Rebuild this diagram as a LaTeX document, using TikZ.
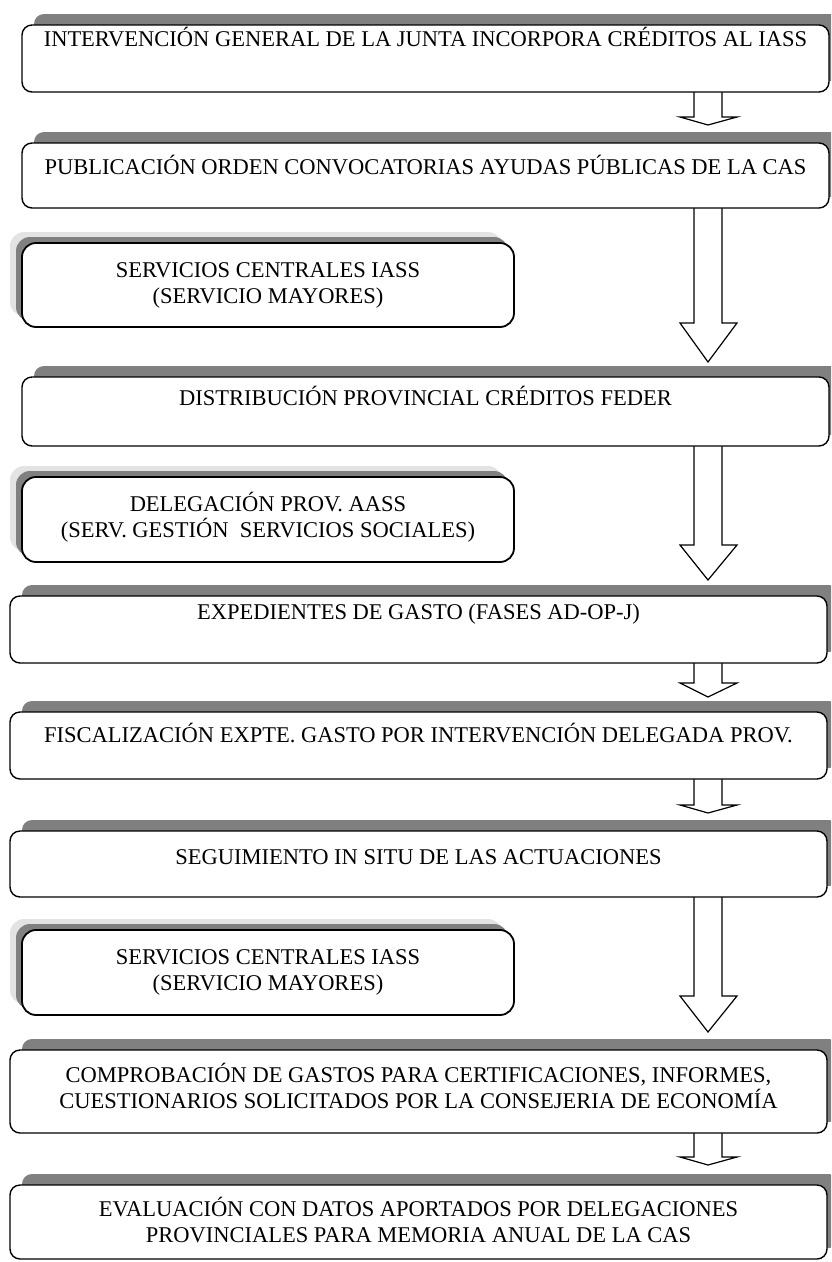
\documentclass[tikz,border=0pt]{standalone}
\usepackage{fontspec}
\setmainfont{Liberation Serif}
\usetikzlibrary{calc}
\pgfdeclarelayer{bg}
\pgfsetlayers{bg,main}
\definecolor{shdark}{HTML}{808080}
\definecolor{shlight}{HTML}{E3E3E3}
\tikzset{
  boxfont/.style={font=\fontsize{22.5}{26}\selectfont},
  mainbox/.style={boxfont, draw=black, line width=1.4pt, fill=white, rounded corners=10pt,
    inner sep=0pt, outer sep=0pt, anchor=north west},
  sidebox/.style={boxfont, draw=black, line width=1.8pt, fill=white, rounded corners=14pt,
    inner sep=0pt, outer sep=0pt, anchor=north west},
  mainshadow/.style={fill=shdark, rounded corners=10pt},
  sidedark/.style={fill=shdark, rounded corners=14pt},
  sidelight/.style={fill=shlight, rounded corners=14pt},
  blockarrow/.style={draw=black, line width=1.2pt, fill=white, line join=miter},
}
% #1 x1, #2 y1, #3 x2, #4 y2, #5 top-to-baseline, #6 text
\newcommand\BoxText[6]{\parbox[c][\dimexpr #4pt-#2pt\relax][t]{\dimexpr #3pt-#1pt\relax}{\centering\rule{0pt}{#5pt}#6\par}}
% #1 name, #2 x1, #3 y1, #4 x2, #5 y2, #6 baseline distance, #7 text
\newcommand\MainBox[7]{%
  \fill[mainshadow] ({#2+12},{-#3+11}) rectangle ({#4+12},{-#5+11});
  \node[mainbox] (#1) at (#2,-#3) {\BoxText{#2}{#3}{#4}{#5}{#6}{#7}};
}
\newcommand\SideBox[7]{%
  \fill[sidelight] ({#2-12},{-#3+11}) rectangle ({#4-12},{-#5+11});
  \fill[sidedark] ({#2-6},{-#3+6}) rectangle ({#4-6},{-#5+6});
  \node[sidebox] (#1) at (#2,-#3) {\BoxText{#2}{#3}{#4}{#5}{#6}{#7}};
}
% #1 node above, #2 head base y, #3 tip y
\newcommand\BlockArrow[3]{%
  \begin{pgfonlayer}{bg}
  \draw[blockarrow] (694,0 |- #1.south) -- (694,-#2) -- (680,-#2) -- (708,-#3)
     -- (737,-#2) -- (722,-#2) -- (722,0 |- #1.south);
  \end{pgfonlayer}
}
\begin{document}
\begin{tikzpicture}[x=1pt,y=1pt]
\useasboundingbox (0,0) rectangle (831,-1262);
\clip (0,0) rectangle (831,-1262);

\MainBox{b1}{22}{25}{829}{92}{21}{INTERVENCIÓN GENERAL DE LA JUNTA INCORPORA CRÉDITOS AL IASS}
\MainBox{b2}{22}{143}{829}{208}{31.5}{PUBLICACIÓN ORDEN CONVOCATORIAS AYUDAS PÚBLICAS DE LA CAS}
\SideBox{sa}{22}{243}{514}{327}{34.5}{SERVICIOS CENTRALES IASS\\(SERVICIO MAYORES)}
\MainBox{b3}{22}{377}{829}{446}{28.5}{DISTRIBUCIÓN PROVINCIAL CRÉDITOS FEDER}
\SideBox{sb}{22}{477}{514}{562}{34.5}{DELEGACIÓN PROV. AASS\\(SERV. GESTIÓN\ \ SERVICIOS SOCIALES)}
\MainBox{b4}{10}{596}{827}{663}{23.5}{EXPEDIENTES DE GASTO (FASES AD-OP-J)}
\MainBox{b5}{10}{712}{827}{779}{30.5}{FISCALIZACIÓN EXPTE. GASTO POR INTERVENCIÓN DELEGADA PROV.}
\MainBox{b6}{10}{831}{827}{897}{33.5}{SEGUIMIENTO IN SITU DE LAS ACTUACIONES}
\SideBox{sc}{22}{930}{514}{1015}{34.5}{SERVICIOS CENTRALES IASS\\(SERVICIO MAYORES)}
\MainBox{b7}{10}{1050}{827}{1133}{32.5}{COMPROBACIÓN DE GASTOS PARA CERTIFICACIONES, INFORMES,\\CUESTIONARIOS SOLICITADOS POR LA CONSEJERIA DE ECONOMÍA}
\MainBox{b8}{10}{1185}{827}{1259}{31.5}{EVALUACIÓN CON DATOS APORTADOS POR DELEGACIONES\\PROVINCIALES PARA MEMORIA ANUAL DE LA CAS}

\BlockArrow{b1}{117}{125}
\BlockArrow{b2}{323}{362}
\BlockArrow{b3}{545}{580}
\BlockArrow{b4}{683}{697}
\BlockArrow{b5}{805}{813}
\BlockArrow{b6}{996}{1032}
\BlockArrow{b7}{1157}{1165}
\end{tikzpicture}
\end{document}
